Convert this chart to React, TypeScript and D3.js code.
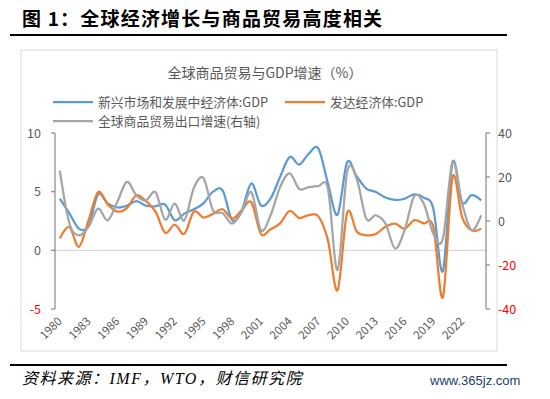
import * as d3 from "d3";

const years = d3.range(1980, 2025).map(String);
const labelYears = years.filter((_, i) => i % 3 === 0 && i <= 42);

// 新兴市场和发展中经济体:GDP (%)
const emde = [
  4.4, 3.15, 1.85, 2.1, 4.77, 4.0, 3.65, 3.8, 4.2, 3.8, 3.75, 3.9, 2.56, 3.13, 3.5,
  4.0, 5.0, 5.1, 2.56, 3.4, 5.7, 3.84, 4.4, 6.25, 7.96, 7.3, 8.24, 8.67, 5.7, 3.04,
  7.5, 6.3, 5.26, 4.97, 4.5, 4.3, 4.4, 4.77, 4.5, 3.55, -1.76, 7.5, 4.1, 4.7, 4.26,
];
// 发达经济体:GDP (%)
const advanced = [
  1.0, 2.0, 0.3, 2.55, 4.97, 3.9, 3.3, 3.6, 4.7, 4.2, 3.3, 1.5, 2.2, 1.4, 3.3,
  2.8, 3.1, 3.5, 2.7, 3.4, 4.1, 1.4, 1.8, 2.3, 3.35, 2.76, 3.0, 2.9, 0.85, -3.4,
  3.2, 1.6, 1.28, 1.4, 2.0, 2.27, 1.85, 2.56, 2.3, 2.0, -3.98, 6.2, 2.84, 1.7, 1.85,
];
// 全球商品贸易出口增速 (%, 右轴)
const trade = [
  22.9, -1, -6.5, -2.7, 5.6, 0.3, 8.6, 17.8, 11.6, 9.4, 13.1, 0.6, 7.9, 0.3, 15,
  19.5, 4.8, 3.6, -1.2, 4.1, 13.1, -4.2, 2.5, 15.4, 21.7, 14.6, 15.4, 15.8, 14.6, -22.3,
  22.2, 19.2, 1.1, 2.6, -1.2, -12.5, -4.2, 11.2, 7.9, -5.7, -8, 26.7, 7.9, -4.2, 2.6,
];

const leftTicks = [-5, 0, 5, 10];
const rightTicks = [-40, -20, 0, 20, 40];

const BLUE = "#5B9BD5";
const ORANGE = "#ED7D31";
const GRAY = "#A5A5A5";
const TXT = "#595959";
const CJK = "'Noto Sans CJK SC', 'Noto Sans', sans-serif";

export default function App() {
  const W = 550;
  const H = 399;
  const left = 55;
  const right = 486;
  const top = 133;
  const bottom = 309;

  const x = d3.scalePoint<string>().domain(years).range([left, right]).padding(0.5);
  const yL = d3.scaleLinear().domain([-5, 10]).range([bottom, top]);
  const yR = d3.scaleLinear().domain([-40, 40]).range([bottom, top]);

  // excel-ish smoothing
  const curve = d3.curveCatmullRom.alpha(0);
  const lineL = d3
    .line<number>()
    .x((_, i) => x(years[i]) as number)
    .y((d) => yL(d))
    .curve(curve);
  const lineR = d3
    .line<number>()
    .x((_, i) => x(years[i]) as number)
    .y((d) => yR(d))
    .curve(curve);

  return (
    <svg
      width={W}
      height={H}
      style={{ position: "absolute", left: 0, top: 0, background: "#fff" }}
    >
      {/* heading */}
      <text
        x={22}
        y={26}
        fontFamily={CJK}
        fontSize={19}
        fontWeight={700}
        letterSpacing={1.2}
        fill="#000"
      >
        图 1：全球经济增长与商品贸易高度相关
      </text>
      <line x1={10} x2={507} y1={35} y2={35} stroke="#000" strokeWidth={2} />

      {/* chart frame */}
      <rect x={21} y={50} width={476} height={301} fill="#fff" stroke="#D9D9D9" />

      <text x={265} y={78} textAnchor="middle" fontFamily={CJK} fontSize={14} fill={TXT}>
        全球商品贸易与GDP增速（%）
      </text>

      {/* legend */}
      <g fontFamily={CJK} fontSize={12.8} fill={TXT}>
        <line x1={53} x2={93} y1={102} y2={102} stroke={BLUE} strokeWidth={2.25} />
        <text x={98} y={106.5}>新兴市场和发展中经济体:GDP</text>
        <line x1={285} x2={325} y1={102} y2={102} stroke={ORANGE} strokeWidth={2.25} />
        <text x={330} y={106.5}>发达经济体:GDP</text>
        <line x1={53} x2={93} y1={121} y2={121} stroke={GRAY} strokeWidth={2.25} />
        <text x={98} y={125.5}>全球商品贸易出口增速(右轴)</text>
      </g>

      {/* zero line */}
      <line x1={left} x2={right} y1={yL(0)} y2={yL(0)} stroke="#D9D9D9" strokeWidth={1.2} />

      {/* left axis */}
      <line x1={left} x2={left} y1={top} y2={bottom} stroke="#898989" strokeWidth={1.2} />
      {leftTicks.map((t) => (
        <g key={"l" + t}>
          <line x1={left - 4} x2={left} y1={yL(t)} y2={yL(t)} stroke="#898989" strokeWidth={1.2} />
          <text
            x={41}
            y={yL(t) + 4.5}
            textAnchor="end"
            fontFamily={CJK}
            fontSize={12.5}
            fill={t < 0 ? "#FF0000" : TXT}
          >
            {t}
          </text>
        </g>
      ))}

      {/* right axis */}
      <line x1={right} x2={right} y1={top} y2={bottom} stroke="#898989" strokeWidth={1.2} />
      {rightTicks.map((t) => (
        <g key={"r" + t}>
          <line x1={right} x2={right + 4} y1={yR(t)} y2={yR(t)} stroke="#898989" strokeWidth={1.2} />
          <text
            x={498}
            y={yR(t) + 4.5}
            fontFamily={CJK}
            fontSize={12.5}
            fill={t < 0 ? "#FF0000" : TXT}
          >
            {t}
          </text>
        </g>
      ))}

      {/* x labels */}
      {labelYears.map((yr) => {
        const px = (x(yr) as number) + 3;
        return (
          <text
            key={yr}
            transform={`translate(${px},${322}) rotate(-45)`}
            textAnchor="end"
            fontFamily={CJK}
            fontSize={11.5}
            fill={TXT}
          >
            {yr}
          </text>
        );
      })}

      {/* series */}
      <path d={lineL(emde) ?? ""} fill="none" stroke={BLUE} strokeWidth={2.25} />
      <path d={lineL(advanced) ?? ""} fill="none" stroke={ORANGE} strokeWidth={2.25} />
      <path d={lineR(trade) ?? ""} fill="none" stroke={GRAY} strokeWidth={2.25} />

      {/* footer */}
      <line x1={10} x2={507} y1={365} y2={365} stroke="#000" strokeWidth={2} />
      <text
        x={22}
        y={384}
        fontFamily="'Liberation Serif', 'Noto Sans CJK SC', serif"
        fontStyle="italic"
        fontSize={16}
        letterSpacing={1.5}
        fill="#000"
      >
        资料来源：IMF，WTO，财信研究院
      </text>
      <text
        x={430}
        y={385}
        fontFamily="'Liberation Sans', sans-serif"
        fontSize={13}
        fill="#1F3A6E"
      >
        www.365jz.com
      </text>
    </svg>
  );
}
